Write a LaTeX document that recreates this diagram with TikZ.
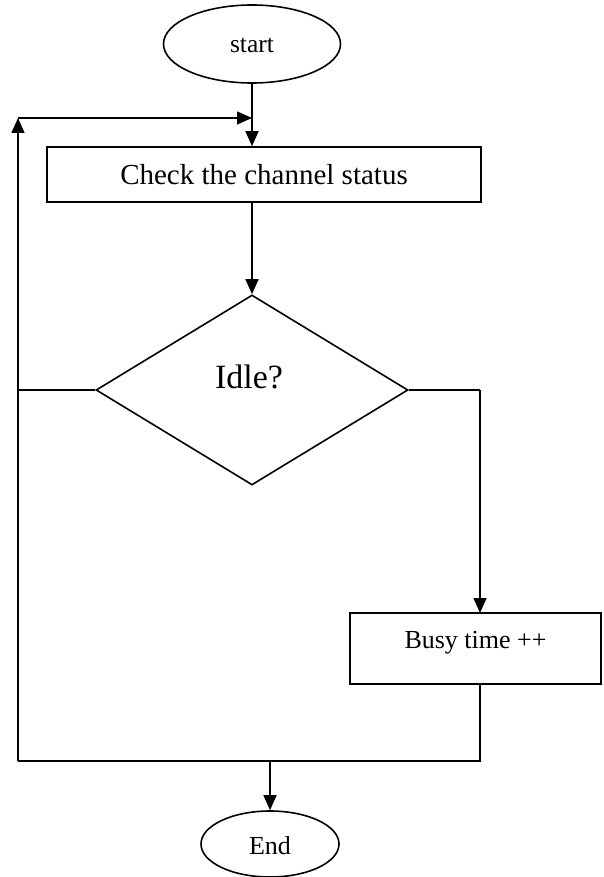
\documentclass[tikz,border=0pt]{standalone}
\usepackage{fontspec}
\setmainfont{Liberation Serif}
\usetikzlibrary{shapes.geometric,arrows.meta}
\tikzset{
  every picture/.style={x=1pt,y=-1pt},
  flow/.style={line width=1.6pt,draw=black},
  arr/.style={flow,-{Triangle[length=15pt,width=13pt]}},
  terminal/.style={ellipse,draw,line width=1.6pt,inner sep=0pt},
  process/.style={rectangle,draw,line width=1.6pt,inner sep=0pt},
  decision/.style={diamond,draw,line width=1.6pt,inner sep=0pt},
  txt/.style={anchor=base,inner sep=0pt}
}
\begin{document}
\begin{tikzpicture}
\useasboundingbox (0,0) rectangle (603,877);

% shapes
\node[terminal,minimum width=177pt,minimum height=78pt] (start) at (252,44) {};
\node[process,minimum width=434pt,minimum height=55pt] (check) at (264,174.5) {};
\node[decision,minimum width=312pt,minimum height=190pt] (idle) at (252,390) {};
\node[process,minimum width=251pt,minimum height=71pt] (busy) at (475.5,648.5) {};
\node[terminal,minimum width=138pt,minimum height=66pt] (end) at (270,844) {};

% texts
\node[txt,font=\fontsize{25.5}{30}\selectfont] at ([yshift=-9pt]start.center) {start};
\node[txt,font=\fontsize{29}{34}\selectfont] at ([yshift=-10.5pt]check.center) {Check the channel status};
\node[txt,font=\fontsize{34}{40}\selectfont] at ([xshift=-3pt,yshift=2pt]idle.center) {Idle?};
\node[txt,font=\fontsize{26}{31}\selectfont] at (busy.center) {Busy time ++};
\node[txt,font=\fontsize{26}{31}\selectfont] at ([yshift=-10pt]end.center) {End};

% junction points of the loop
\coordinate (loopTop) at (18,118);
\coordinate (loopIn) at (start.south |- loopTop);
\coordinate (loopBot) at (18,761);
\coordinate (busyIn) at (480,613);
\coordinate (busyOut) at (480,684);
\coordinate (busyTurn) at (busyOut |- loopBot);
\coordinate (endIn) at (end.north |- loopBot);
\coordinate (idleOut) at (busyIn |- idle.east);
\coordinate (idleLeft) at (loopTop |- idle.west);

% connectors
\draw[arr] (start.south) -- (check.north -| start.south);
\draw[arr] (check.south -| start.south) -- (idle.north);
\draw[flow] (idle.east) -- (idleOut);
\draw[arr] (idleOut) -- (busyIn);
\draw[flow] (busyOut) -- (busyTurn) -- (loopBot);
\draw[flow] (idle.west) -- (idleLeft);
\draw[arr] (loopBot) -- (loopTop);
\draw[arr] (loopTop) -- (loopIn);
\draw[arr] (endIn) -- (end.north);
\end{tikzpicture}
\end{document}
